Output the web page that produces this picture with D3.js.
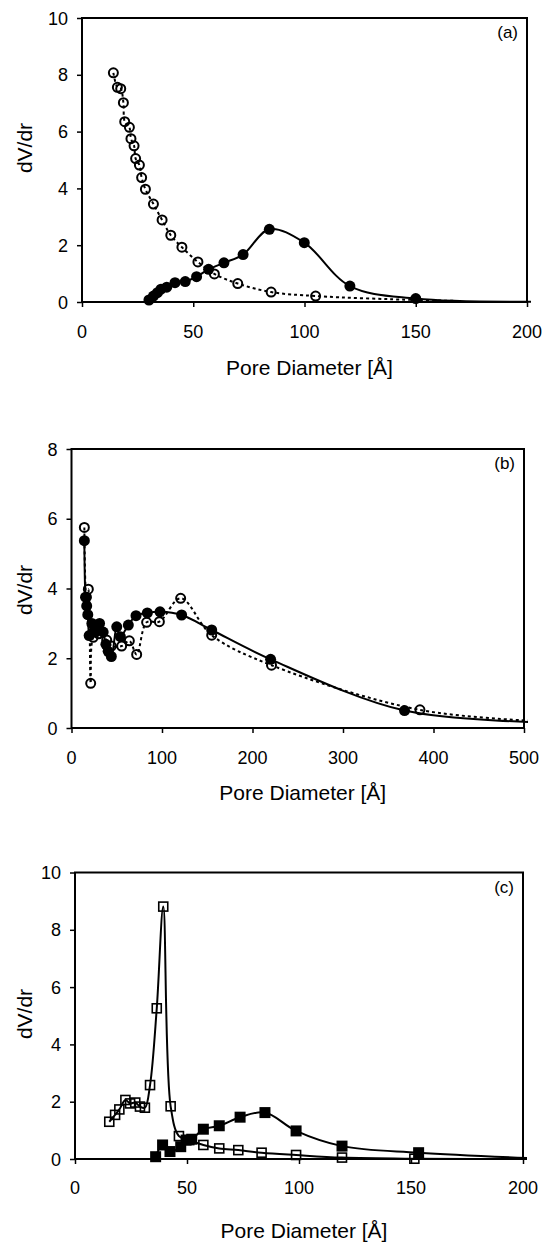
<!DOCTYPE html>
<html>
<head>
<meta charset="utf-8">
<script src="https://cdn.jsdelivr.net/npm/d3@7"></script>
<style>
  body { margin: 0; background: #fff; }
  svg { display: block; font-family: "Liberation Sans", Arial, sans-serif; }
</style>
</head>
<body>
<div id="chart"></div>
<script>
// Panel (a): pore size distribution, two samples
const aOpenX = [14.1, 15.9, 17.4, 18.6, 19.2, 21.3, 22.0, 23.4, 24.1, 25.8, 26.8, 28.5, 32.1, 36.0, 39.9, 44.9, 52.1, 59.5, 70.0, 85.0, 105.0, 150.0, 168.0];
const aOpenY = [8.07, 7.56, 7.51, 7.02, 6.35, 6.15, 5.75, 5.50, 5.05, 4.82, 4.38, 3.97, 3.45, 2.89, 2.35, 1.93, 1.41, 0.99, 0.65, 0.35, 0.21, 0.07, 0.04];
const aFillX = [30.1, 32.1, 33.9, 35.5, 38.1, 41.8, 46.4, 51.5, 56.9, 63.8, 72.4, 84.2, 99.9, 120.4, 150.0, 205.0];
const aFillY = [0.07, 0.21, 0.33, 0.45, 0.52, 0.68, 0.72, 0.89, 1.15, 1.38, 1.67, 2.56, 2.09, 0.56, 0.12, 0.01];

// Panel (b)
const bOpenX = [14.2, 16.5, 18.6, 21.2, 24.0, 30.0, 38.9, 44.0, 55.4, 63.9, 72.0, 83.0, 97.1, 120.6, 154.9, 221.0, 385.0, 530.0];
const bOpenY = [5.75, 3.75, 3.98, 1.28, 2.60, 2.70, 2.52, 2.35, 2.35, 2.50, 2.11, 3.03, 3.05, 3.72, 2.66, 1.80, 0.52, 0.18];
const bFillX = [14.2, 15.5, 16.8, 18.0, 19.5, 22.5, 26.0, 31.0, 35.0, 38.0, 40.5, 44.0, 50.0, 54.0, 62.8, 71.3, 83.8, 97.8, 121.7, 154.9, 220.0, 368.0, 530.0];
const bFillY = [5.37, 3.75, 3.50, 3.25, 2.65, 3.00, 2.75, 3.00, 2.75, 2.40, 2.20, 2.05, 2.90, 2.62, 2.95, 3.22, 3.30, 3.33, 3.24, 2.81, 1.97, 0.50, 0.16];

// Panel (c)
const cOpenX = [15.3, 17.9, 19.8, 22.5, 24.6, 26.9, 29.0, 31.2, 33.5, 36.5, 39.4, 42.7, 46.4, 51.0, 57.3, 64.4, 72.9, 83.3, 98.7, 119.2, 151.5, 210.0];
const cOpenY = [1.30, 1.54, 1.73, 2.06, 1.94, 1.97, 1.83, 1.79, 2.58, 5.26, 8.81, 1.84, 0.80, 0.66, 0.49, 0.37, 0.31, 0.22, 0.14, 0.05, 0.01, 0.0];
const cFillX = [36.0, 39.1, 42.4, 47.2, 49.6, 52.1, 57.3, 64.4, 73.7, 84.8, 98.7, 119.2, 153.4, 210.0];
const cFillY = [0.08, 0.49, 0.26, 0.43, 0.66, 0.69, 1.04, 1.16, 1.46, 1.62, 0.98, 0.45, 0.22, 0.01];

const yTicksA = [0, 2, 4, 6, 8, 10];
const yTicksB = [0, 2, 4, 6, 8];
const xTicksAC = [0, 50, 100, 150, 200];
const xTicksB = [0, 100, 200, 300, 400, 500];

const zip = (xs, ys) => xs.map((x, i) => ({ x, y: ys[i] }));

const panels = [
  { tag: "(a)", box: [82, 18, 527, 302], xMax: 200, yMax: 10, xTicks: xTicksAC, yTicks: yTicksA,
    tickY: 338, titleY: 375, ylabY: 148, shape: "circle",
    open: zip(aOpenX, aOpenY), fill: zip(aFillX, aFillY), openDash: true, nOpen: 21, nFill: 15 },
  { tag: "(b)", box: [71.5, 449, 524, 728], xMax: 500, yMax: 8, xTicks: xTicksB, yTicks: yTicksB,
    tickY: 764, titleY: 800, ylabY: 590, shape: "circle",
    open: zip(bOpenX, bOpenY), fill: zip(bFillX, bFillY), openDash: true, nOpen: 17, nFill: 22 },
  { tag: "(c)", box: [75, 872.5, 523, 1159], xMax: 200, yMax: 10, xTicks: xTicksAC, yTicks: yTicksA,
    tickY: 1194, titleY: 1238, ylabY: 1014, shape: "square",
    open: zip(cOpenX, cOpenY), fill: zip(cFillX, cFillY), openDash: false, nOpen: 21, nFill: 13 }
];

const svg = d3.select("#chart").append("svg")
    .attr("width", 544)
    .attr("height", 1243);

panels.forEach((p, k) => {
  const [x0, y0, x1, y1] = p.box;
  const x = d3.scaleLinear().domain([0, p.xMax]).range([x0, x1]);
  const y = d3.scaleLinear().domain([0, p.yMax]).range([y1, y0]);

  const g = svg.append("g");

  svg.append("clipPath").attr("id", "clip" + k)
    .append("rect").attr("x", x0).attr("y", y0 - 10).attr("width", x1 - x0 + 4).attr("height", y1 - y0 + 14);

  // axes
  const ax = g.append("g")
      .attr("transform", `translate(0,${y1})`)
      .call(d3.axisBottom(x).tickValues(p.xTicks).tickSize(5).tickSizeOuter(0).tickFormat(""));
  const ay = g.append("g")
      .attr("transform", `translate(${x0},0)`)
      .call(d3.axisLeft(y).tickValues(p.yTicks).tickSize(5).tickSizeOuter(0).tickFormat(""));
  [ax, ay].forEach(a => {
    a.select(".domain").remove();
    a.selectAll("line").attr("stroke", "#000").attr("stroke-width", 1.5);
  });

  g.selectAll(".xt").data(p.xTicks).enter().append("text")
      .attr("x", d => x(d)).attr("y", p.tickY)
      .attr("text-anchor", "middle").attr("font-size", 18).text(d => d);
  g.selectAll(".yt").data(p.yTicks).enter().append("text")
      .attr("x", x0 - 14).attr("y", d => y(d) + 6.5)
      .attr("text-anchor", "end").attr("font-size", 18).text(d => d);

  g.append("rect")
      .attr("x", x0).attr("y", y0).attr("width", x1 - x0).attr("height", y1 - y0)
      .attr("fill", "none").attr("stroke", "#000").attr("stroke-width", 2);

  g.append("text")
      .attr("x", (x0 + x1) / 2 + 5).attr("y", p.titleY)
      .attr("text-anchor", "middle").attr("font-size", 21).text("Pore Diameter [Å]");
  g.append("text")
      .attr("transform", `translate(32,${p.ylabY}) rotate(-90)`)
      .attr("text-anchor", "middle").attr("font-size", 21).text("dV/dr");
  g.append("text")
      .attr("x", x1 - 9).attr("y", y0 + 20)
      .attr("text-anchor", "end").attr("font-size", 17).text(p.tag);

  const line = d3.line().x(d => x(d.x)).y(d => y(d.y)).curve(d3.curveCatmullRom.alpha(0.5));
  const lines = g.append("g").attr("clip-path", `url(#clip${k})`);

  lines.append("path").datum(p.open)
      .attr("d", line).attr("fill", "none").attr("stroke", "#000")
      .attr("stroke-width", 2).attr("stroke-dasharray", p.openDash ? "3,3" : null);
  lines.append("path").datum(p.fill)
      .attr("d", line).attr("fill", "none").attr("stroke", "#000").attr("stroke-width", 2);

  const openPts = p.open.slice(0, p.nOpen);
  const fillPts = p.fill.slice(0, p.nFill);

  if (p.shape === "circle") {
    g.selectAll(".op").data(openPts).enter().append("circle")
        .attr("cx", d => x(d.x)).attr("cy", d => y(d.y)).attr("r", 4.5)
        .attr("fill", "none").attr("stroke", "#000").attr("stroke-width", 2);
    g.selectAll(".fp").data(fillPts).enter().append("circle")
        .attr("cx", d => x(d.x)).attr("cy", d => y(d.y)).attr("r", 5.5)
        .attr("fill", "#000");
  } else {
    g.selectAll(".op").data(openPts).enter().append("rect")
        .attr("x", d => x(d.x) - 4.5).attr("y", d => y(d.y) - 4.5)
        .attr("width", 9).attr("height", 9)
        .attr("fill", "none").attr("stroke", "#000").attr("stroke-width", 1.6);
    g.selectAll(".fp").data(fillPts).enter().append("rect")
        .attr("x", d => x(d.x) - 5.5).attr("y", d => y(d.y) - 5.5)
        .attr("width", 11).attr("height", 11)
        .attr("fill", "#000");
  }
});
</script>
</body>
</html>
